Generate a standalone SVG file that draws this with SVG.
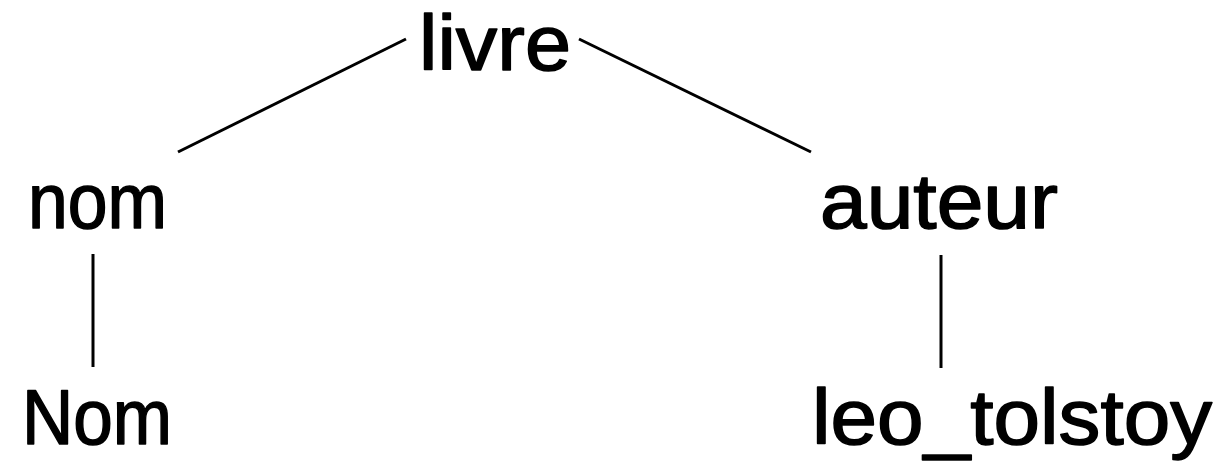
<svg xmlns="http://www.w3.org/2000/svg" width="1220" height="462" viewBox="0 0 1220 462">
<style>
.t{font-family:"Liberation Sans","DejaVu Sans",sans-serif;font-size:77px;fill:#000;stroke:#000;stroke-width:1.5px;stroke-linejoin:round}
.c line{stroke:#000;stroke-width:3}
</style>
<rect width="1220" height="462" fill="#fff"/>
<g class="c" id="connectors">
<line x1="178" y1="152" x2="406" y2="39"/>
<line x1="579" y1="39" x2="811" y2="152"/>
<line x1="93" y1="254" x2="93" y2="367"/>
<line x1="941" y1="255" x2="941" y2="368"/>
</g>
<g id="n-livre"><text class="t" x="419" y="70" textLength="152" lengthAdjust="spacingAndGlyphs">livre</text></g>
<g id="n-nom"><text class="t" x="28" y="228" textLength="139" lengthAdjust="spacingAndGlyphs">nom</text></g>
<g id="n-auteur"><text class="t" x="820" y="228" textLength="238" lengthAdjust="spacingAndGlyphs">auteur</text></g>
<g id="n-Nom"><text class="t" x="22" y="444" textLength="150" lengthAdjust="spacingAndGlyphs">Nom</text></g>
<g id="n-leo"><text class="t" x="812" y="444" textLength="400" lengthAdjust="spacingAndGlyphs">leo_tolstoy</text></g>
</svg>
